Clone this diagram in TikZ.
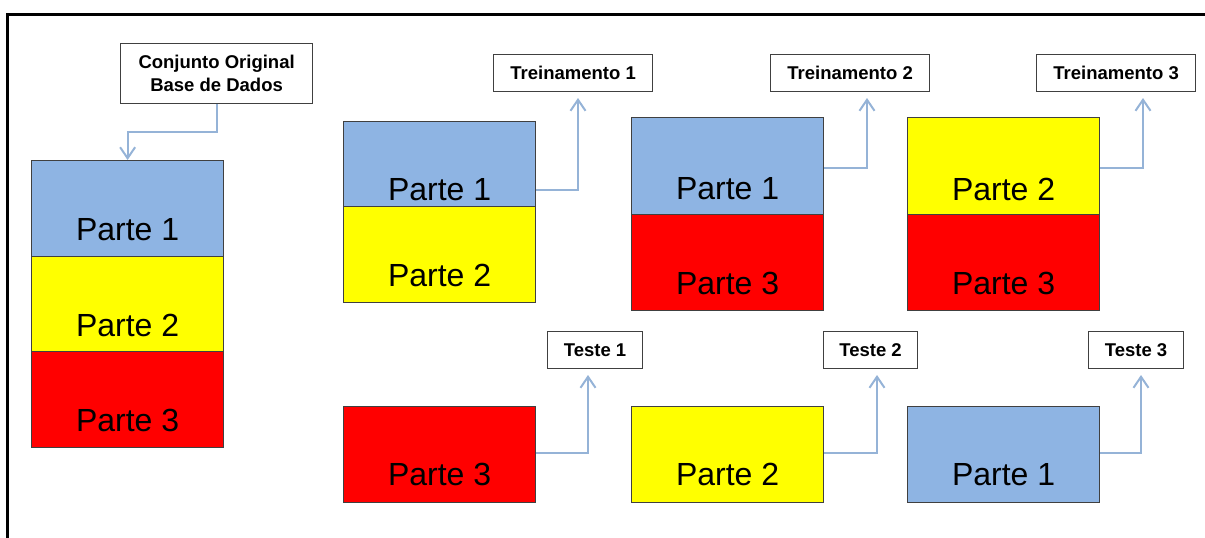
\documentclass[tikz,border=0pt]{standalone}
\usepackage{fontspec}
\setmainfont{Liberation Sans}
\usetikzlibrary{arrows.meta}
\definecolor{partblue}{RGB}{142,180,227}
\definecolor{partyellow}{RGB}{255,255,0}
\definecolor{partred}{RGB}{255,0,0}
\definecolor{cellline}{RGB}{64,64,64}
\definecolor{linkblue}{RGB}{149,179,215}
\tikzset{
  cell/.style={draw=cellline, line width=1.2pt, anchor=north west, inner sep=0pt,
    minimum width=192pt},
  blue cell/.style={cell, fill=partblue},
  yellow cell/.style={cell, fill=partyellow},
  red cell/.style={cell, fill=partred},
  parttext/.style={font=\fontsize{32}{38}\selectfont, inner sep=0pt},
  tag/.style={draw=cellline, line width=1.2pt, fill=white, anchor=north west, inner sep=0pt,
    font=\bfseries\fontsize{18.5}{23}\selectfont, align=center},
  conn/.style={draw=linkblue, line width=2pt, -{Straight Barb[length=11pt,width=15pt,line width=2pt]}},
  frameline/.style={line width=3pt, black}
}
\begin{document}
\begin{tikzpicture}[x=1pt, y=-1pt]
  \useasboundingbox (0,0) rectangle (1205,538);
  % outer frame (top and left edges)
  \draw[frameline] (1206,14) -- (7,14) -- (7,539);

  % original data set
  \node[tag, minimum width=192pt, minimum height=60pt] (orig) at (120,43)
    {Conjunto Original\\Base de Dados};
  \node[blue cell, minimum height=96pt] (L1) at (31,160) {};
  \node[yellow cell, minimum height=95pt] (L2) at (31,256) {};
  \node[red cell, minimum height=96pt] (L3) at (31,351) {};
  \node[parttext] (L1t) at ([yshift=-21pt]L1.center) {Parte 1};
  \node[parttext] (L2t) at ([yshift=-21pt]L2.center) {Parte 2};
  \node[parttext] (L3t) at ([yshift=-21pt]L3.center) {Parte 3};
  \draw[conn] (orig.south) -- ++(0,28) -| (L1.north);

  % training sets
  \node[blue cell, minimum height=85pt] (A1) at (343,121) {};
  \node[yellow cell, minimum height=96pt] (A2) at (343,206) {};
  \node[parttext] (A1t) at ([yshift=-26pt]A1.center) {Parte 1};
  \node[parttext] (A2t) at ([yshift=-21pt]A2.center) {Parte 2};

  \node[blue cell, minimum height=97pt] (B1) at (631,117) {};
  \node[red cell, minimum height=96pt] (B2) at (631,214) {};
  \node[parttext] (B1t) at ([yshift=-23pt]B1.center) {Parte 1};
  \node[parttext] (B2t) at ([yshift=-21pt]B2.center) {Parte 3};

  \node[yellow cell, minimum height=97pt] (C1) at (907,117) {};
  \node[red cell, minimum height=96pt] (C2) at (907,214) {};
  \node[parttext] (C1t) at ([yshift=-23pt]C1.center) {Parte 2};
  \node[parttext] (C2t) at ([yshift=-21pt]C2.center) {Parte 3};

  \node[tag, minimum width=159pt, minimum height=37pt] (tr1) at (493,54) {Treinamento 1};
  \node[tag, minimum width=159pt, minimum height=37pt] (tr2) at (770,54) {Treinamento 2};
  \node[tag, minimum width=159pt, minimum height=37pt] (tr3) at (1036,54) {Treinamento 3};

  \coordinate (tip1) at (578,98);
  \coordinate (tip2) at (867,98);
  \coordinate (tip3) at (1143,98);
  \draw[conn] ([yshift=-69pt]A1.north east) -| (tip1);
  \draw[conn] ([yshift=-51pt]B1.north east) -| (tip2);
  \draw[conn] ([yshift=-51pt]C1.north east) -| (tip3);

  % test sets
  \node[red cell, minimum height=96pt] (D1) at (343,406) {};
  \node[yellow cell, minimum height=96pt] (E1) at (631,406) {};
  \node[blue cell, minimum height=96pt] (F1) at (907,406) {};
  \node[parttext] (D1t) at ([yshift=-20pt]D1.center) {Parte 3};
  \node[parttext] (E1t) at ([yshift=-20pt]E1.center) {Parte 2};
  \node[parttext] (F1t) at ([yshift=-20pt]F1.center) {Parte 1};

  \node[tag, minimum width=95pt, minimum height=37pt] (te1) at (547,331) {Teste 1};
  \node[tag, minimum width=94pt, minimum height=37pt] (te2) at (823,331) {Teste 2};
  \node[tag, minimum width=95pt, minimum height=37pt] (te3) at (1088,331) {Teste 3};

  \coordinate (tip4) at (588,375);
  \coordinate (tip5) at (877,375);
  \coordinate (tip6) at (1141,375);
  \draw[conn] ([yshift=-47pt]D1.north east) -| (tip4);
  \draw[conn] ([yshift=-47pt]E1.north east) -| (tip5);
  \draw[conn] ([yshift=-47pt]F1.north east) -| (tip6);
\end{tikzpicture}
\end{document}
